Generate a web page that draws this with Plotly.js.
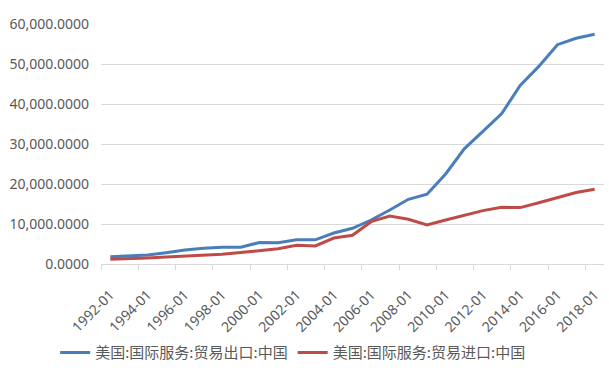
<!DOCTYPE html>
<html>
<head>
<meta charset="utf-8">
<script src="https://cdn.plot.ly/plotly-3.0.1.min.js"></script>
<style>html,body{margin:0;padding:0;background:#fff;}#chart{width:609px;height:374px;}</style>
</head>
<body>
<div id="chart"></div>
<script>
const categories = ["1992-01","1993-01","1994-01","1995-01","1996-01","1997-01","1998-01","1999-01","2000-01","2001-01","2002-01","2003-01","2004-01","2005-01","2006-01","2007-01","2008-01","2009-01","2010-01","2011-01","2012-01","2013-01","2014-01","2015-01","2016-01","2017-01","2018-01"];
const exportsName = "美国:国际服务:贸易出口:中国";
const importsName = "美国:国际服务:贸易进口:中国";
const exportsValues = [1830,2000,2250,2830,3500,3920,4170,4170,5380,5300,6080,6050,7750,8920,11000,13500,16170,17450,22500,28800,33150,37550,44650,49400,54830,56420,57450];
const importsValues = [1170,1250,1500,1750,2000,2170,2420,2880,3330,3790,4670,4500,6500,7200,10580,12000,11170,9750,11000,12100,13350,14170,14100,15330,16670,17880,18670];
const yTickVals = [0,10000,20000,30000,40000,50000,60000];

const tickFont = {family: "Noto Sans, Noto Sans CJK SC, sans-serif", size: 14, color: "#595959"};

const data = [
  {x: categories, y: exportsValues, name: exportsName, type: "scatter", mode: "lines",
   line: {color: "#4A7EBB", width: 3}},
  {x: categories, y: importsValues, name: importsName, type: "scatter", mode: "lines",
   line: {color: "#BE4B48", width: 3}}
];

const layout = {
  width: 609, height: 374,
  margin: {l: 101, r: 5, t: 24, b: 110},
  paper_bgcolor: "#fff", plot_bgcolor: "#fff",
  showlegend: true,
  legend: {orientation: "h", x: 0.382, xanchor: "center",
    y: -0.37, yanchor: "middle",
    font: {family: "Noto Sans CJK SC, sans-serif", size: 15, color: "#595959"},
    itemwidth: 30, tracegroupgap: 0},
  xaxis: {type: "category", range: [-0.5, 26.5], tickmode: "linear", tick0: 0, dtick: 2,
    tickson: "boundaries", ticks: "outside", ticklen: 5, tickcolor: "#D9D9D9",
    showline: true, linecolor: "#D9D9D9", linewidth: 1, showgrid: false,
    tickangle: -45, tickfont: tickFont, ticklabelstandoff: 16, automargin: false},
  yaxis: {range: [0, 60000], tickmode: "array", tickvals: yTickVals, tickformat: ",.4f",
    showgrid: true, gridcolor: "#D9D9D9", gridwidth: 1, zeroline: false, showline: false,
    ticks: "", tickfont: tickFont, ticklabelstandoff: 11, automargin: false}
};

Plotly.newPlot("chart", data, layout, {displayModeBar: false, staticPlot: true});
</script>
</body>
</html>
